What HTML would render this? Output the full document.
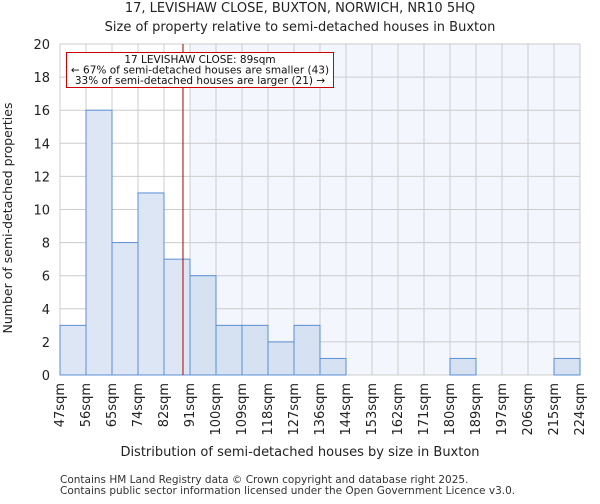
<!DOCTYPE html>
<html><head><meta charset="utf-8"><style>
body{margin:0;background:#fff;font-family:"DejaVu Sans","Liberation Sans",sans-serif}
</style></head><body>
<svg width="600" height="500" font-family="DejaVu Sans, Liberation Sans, sans-serif">
<g id="g"></g>
</svg>
<script>
const categories=["47sqm","56sqm","65sqm","74sqm","82sqm","91sqm","100sqm","109sqm","118sqm","127sqm","136sqm","144sqm","153sqm","162sqm","171sqm","180sqm","189sqm","197sqm","206sqm","215sqm","224sqm"];
const counts=[3,16,8,11,7,6,3,3,2,3,1,0,0,0,0,1,0,0,0,1];
const yTicks=[0,2,4,6,8,10,12,14,16,18,20];
const markerBin=4.73;
const highlightFrom=5;
const ns="http://www.w3.org/2000/svg";
const g=document.getElementById('g');
const L=60,R=580,T=44,B=375,bw=(R-L)/counts.length;
const x=i=>L+i*bw, y=v=>B-(v/20)*(B-T);
function el(t,a,txt){const e=document.createElementNS(ns,t);for(const k in a)e.setAttribute(k,a[k]);if(txt!==undefined)e.textContent=txt;g.appendChild(e);return e;}
let e;
e=el('rect',{x:x(highlightFrom),y:T,width:R-x(highlightFrom),height:B-T,fill:'#f3f6fd'});

for(let i=0;i<=counts.length;i++){e=el('line',{x1:x(i),x2:x(i),y1:T,y2:B,stroke:'#cccccc','stroke-width':1});
}
yTicks.forEach(v=>{e=el('line',{x1:L,x2:R,y1:y(v),y2:y(v),stroke:'#cccccc','stroke-width':1});

e=el('text',{x:L-10,y:y(v)+5,'text-anchor':'end','font-size':13,fill:'#222'},v);
});
counts.forEach((c,i)=>{if(c<=0)return;e=el('rect',{x:x(i),y:y(c),width:bw,height:B-y(c),fill:i>=highlightFrom?'#d6e1f2':'#dce6f4',stroke:'#5b8fd6','stroke-width':1});
});
categories.forEach((c,i)=>{const tx=x(i)+4,ty=B+8;e=el('text',{x:tx,y:ty,transform:`rotate(-90 ${tx} ${ty})`,'text-anchor':'end','font-size':13,fill:'#222'},c);
});
const mx=x(markerBin);
e=el('line',{x1:mx,x2:mx,y1:T,y2:B,stroke:'#aa0000','stroke-width':1});

e=el('rect',{x:66.5,y:52.5,width:267,height:35,fill:'#fff',stroke:'#cc0000','stroke-width':1});

[["17 LEVISHAW CLOSE: 89sqm",63],["\u2190 67% of semi-detached houses are smaller (43)",73.5],["33% of semi-detached houses are larger (21) \u2192",84]].forEach(a=>{
e=el('text',{x:200,y:a[1],'text-anchor':'middle','font-size':10.5,fill:'#111'},a[0]);
});
e=el('text',{x:300,y:12,'text-anchor':'middle','font-size':13,fill:'#222'},"17, LEVISHAW CLOSE, BUXTON, NORWICH, NR10 5HQ");

e=el('text',{x:300,y:31,'text-anchor':'middle','font-size':13,fill:'#222'},"Size of property relative to semi-detached houses in Buxton");

e=el('text',{x:12,y:218,transform:'rotate(-90 12 218)','text-anchor':'middle','font-size':12.5,fill:'#222'},"Number of semi-detached properties");

e=el('text',{x:300,y:456,'text-anchor':'middle','font-size':13,fill:'#222'},"Distribution of semi-detached houses by size in Buxton");

e=el('text',{x:60,y:483,'font-size':10.5,fill:'#333'},"Contains HM Land Registry data \u00a9 Crown copyright and database right 2025.");

e=el('text',{x:60,y:494,'font-size':10.5,fill:'#333'},"Contains public sector information licensed under the Open Government Licence v3.0.");

</script>
</body></html>
